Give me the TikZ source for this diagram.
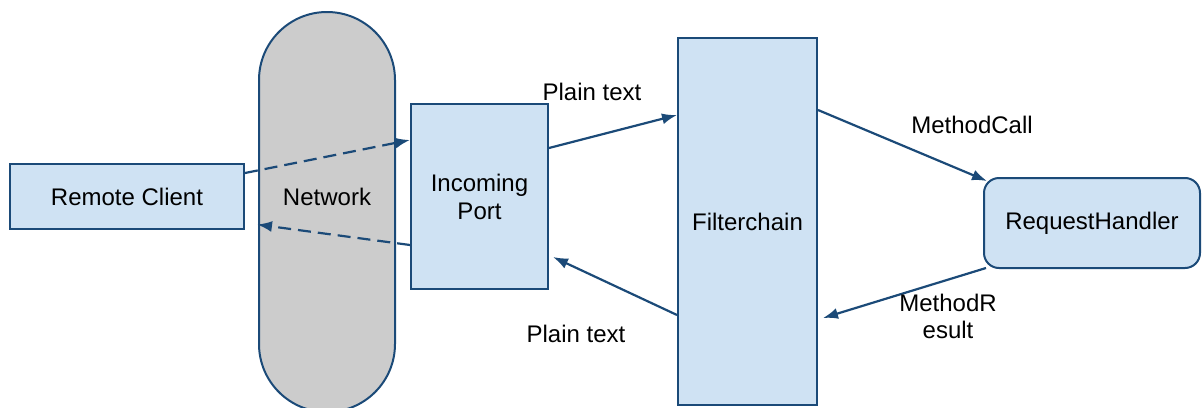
\documentclass[tikz,border=0pt]{standalone}
\usepackage{fontspec}
\setmainfont{Liberation Sans}
\usetikzlibrary{arrows.meta}
\definecolor{boxfill}{HTML}{CFE2F3}
\definecolor{boxline}{HTML}{1B4A78}
\definecolor{netfill}{HTML}{CCCCCC}
\tikzset{
  box/.style={draw=boxline, fill=boxfill, line width=2pt, inner sep=0pt, align=center, font=\fontsize{24}{28}\selectfont},
  lbl/.style={align=center, font=\fontsize{24}{27}\selectfont, inner sep=0pt},
  conn/.style={draw=boxline, line width=2.2pt, -{Latex[length=15pt,width=11pt]}},
  dconn/.style={conn, dash pattern=on 13pt off 7pt},
}
\begin{document}
\begin{tikzpicture}[x=1pt,y=-1pt]
\useasboundingbox (0,0) rectangle (1204,407);
\clip (0,0) rectangle (1204,407);
\node[box, fill=netfill, rounded corners=68pt, minimum width=136pt, minimum height=400pt] (net) at (327,212) {};
\node[lbl] (nettext) at (327,197) {Network};
\node[box, minimum width=234pt, minimum height=65pt] (rc) at (127,196.5) {Remote Client};
\node[box, minimum width=137pt, minimum height=185pt] (ip) at (479.5,196.5) {Incoming\\Port};
\node[box, minimum width=139pt, minimum height=367pt] (fc) at (747.5,221.5) {Filterchain};
\node[box, rounded corners=15pt, minimum width=216pt, minimum height=90pt] (rh) at (1092,223) {RequestHandler};
\draw[dconn] ([yshift=23.5pt]rc.east) -- ([yshift=56.5pt]ip.west);
\draw[dconn] ([yshift=-48.5pt]ip.west) -- ([xshift=12pt,yshift=-28pt]rc.east);
\draw[conn] ([yshift=48.5pt]ip.east) -- ([yshift=106.5pt]fc.west);
\draw[conn] ([yshift=-93.5pt]fc.west) -- ([xshift=4pt,yshift=-60.5pt]ip.east);
\draw[conn] ([yshift=111.5pt]fc.east) -- ([xshift=4pt,yshift=-4pt]rh.north west);
\draw[conn] ([xshift=3pt,yshift=1pt]rh.south west) -- ([xshift=5pt,yshift=-96.5pt]fc.east);
\node[lbl] (pt1) at (592,92) {Plain text};
\node[lbl] (pt2) at (576,334) {Plain text};
\node[lbl] (mc) at (972,125) {MethodCall};
\node[lbl] (mr) at (948,316) {MethodR\\esult};
\end{tikzpicture}
\end{document}
